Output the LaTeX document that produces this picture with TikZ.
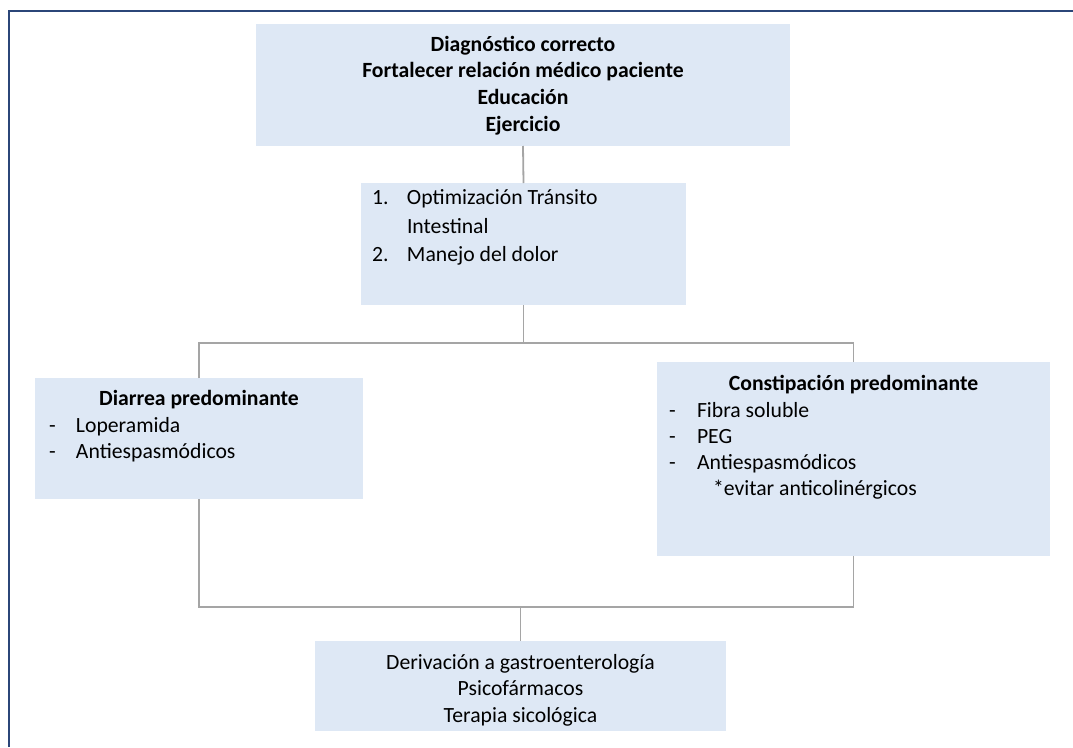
\documentclass[tikz,border=0pt]{standalone}
\usepackage{fontspec}
\setmainfont{Carlito}
\definecolor{boxblue}{RGB}{222,232,245}
\definecolor{linkgray}{RGB}{165,165,165}
\definecolor{framenavy}{RGB}{43,70,120}
\begin{document}
\begin{tikzpicture}[x=1pt,y=-1pt,
  box/.style={fill=boxblue,draw=none,inner sep=0pt,outer sep=0pt,anchor=north west},
  plain/.style={inner sep=0pt,outer sep=0pt,font=\fontsize{21.7}{26.3}\selectfont},
  heavy/.style={inner sep=0pt,outer sep=0pt,font=\fontsize{21.7}{26.3}\selectfont\bfseries},
  link/.style={draw=linkgray,line width=1.8pt}]
\useasboundingbox (0,0) rectangle (1073,747);

% page frame (top and left rules)
\coordinate (fbl) at (9,747);
\coordinate (ftl) at (9,11);
\coordinate (ftr) at (1073,11);
\draw[framenavy,line width=2.5pt] (fbl) -- (ftl) -- (ftr);

% boxes
\node[box,minimum width=534pt,minimum height=122pt] (goals) at (256,24) {};
\node[box,minimum width=325pt,minimum height=122pt] (opt) at (361,183) {};
\node[box,minimum width=328pt,minimum height=121pt] (diar) at (35,378) {};
\node[box,minimum width=393pt,minimum height=194pt] (cons) at (657,362) {};
\node[box,minimum width=411pt,minimum height=90pt] (deriv) at (315,641) {};

% texts
\node[heavy,anchor=north,align=center,font=\fontsize{21.7}{26.7}\selectfont\bfseries] (goalstxt) at (523,32.4)
  {\strut Diagnóstico correcto\\Fortalecer relación médico paciente\\Educación\\Ejercicio};
\node[plain,anchor=north west,align=left,font=\fontsize{21.7}{28.5}\selectfont] (opttxt) at (372,185)
  {\strut\makebox[35pt][l]{1.}Optimización Tránsito\\\hspace*{35pt}Intestinal\\\makebox[35pt][l]{2.}Manejo del dolor};
\node[heavy,anchor=base] (diarhead) at (199,405) {Diarrea predominante};
\node[plain,anchor=north west,align=left,font=\fontsize{21.7}{26.8}\selectfont] (diarlist) at (49,413.4)
  {\strut\makebox[27pt][l]{-}Loperamida\\\makebox[27pt][l]{-}Antiespasmódicos};
\node[heavy,anchor=base] (conshead) at (853.5,390) {Constipación predominante};
\node[plain,anchor=north west,align=left] (conslist) at (669,398.6)
  {\strut\makebox[28pt][l]{-}Fibra soluble\\\makebox[28pt][l]{-}PEG\\\makebox[28pt][l]{-}Antiespasmódicos\\\hspace*{44pt}*evitar anticolinérgicos};
\node[plain,anchor=north,align=center] (derivtxt) at (520.5,651)
  {\strut Derivación a gastroenterología\\Psicofármacos\\Terapia sicológica};

% connectors
\coordinate (ybranch) at (0,343);
\coordinate (yjoin) at (0,607);
\draw[link] (goals.south) -- (opt.north);
\draw[link] (opt.south) -- (opt.south |- ybranch);
\draw[link] (diar.north) -- (diar.north |- ybranch) -- (cons.north |- ybranch) -- (cons.north);
\draw[link] (diar.south) -- (diar.south |- yjoin) -- (cons.south |- yjoin) -- (cons.south);
\draw[link] (deriv.north |- yjoin) -- (deriv.north);
\end{tikzpicture}
\end{document}
